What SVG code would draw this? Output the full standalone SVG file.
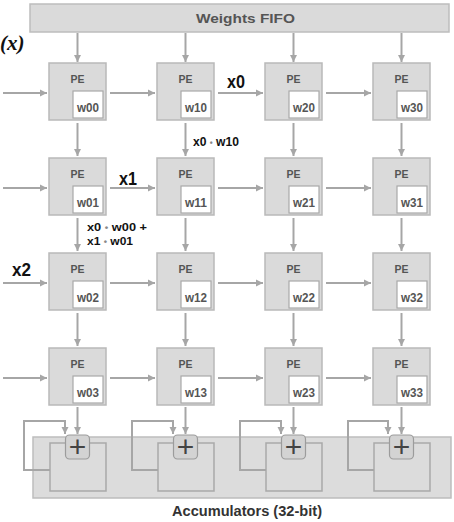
<svg xmlns="http://www.w3.org/2000/svg" width="454" height="522" viewBox="0 0 454 522">
<style>
.pe{fill:#dadada;stroke:#b9b9b9;stroke-width:1.5}
.wb{fill:#ffffff;stroke:#a9a9a9;stroke-width:1.2}
.pel{font-family:"Liberation Sans",Arial,sans-serif;font-weight:bold;font-size:11px;fill:#555;text-anchor:middle}
.wl{font-family:"Liberation Sans",Arial,sans-serif;font-weight:bold;font-size:12.5px;fill:#555;text-anchor:middle}
.c{fill:none;stroke:#a6a6a6;stroke-width:2;marker-end:url(#ah)}
.lbl{font-family:"Liberation Sans",Arial,sans-serif;font-weight:bold;fill:#111}
.dot{fill:#888;font-size:9px}
.acc{fill:#dcdcdc;stroke:#bdbdbd;stroke-width:1.5}
.accin{fill:none;stroke:#a9a9a9;stroke-width:1.5}
.plus{fill:#d3d3d3;stroke:#9c9c9c;stroke-width:1.2}
.pt{font-family:"Liberation Sans",Arial,sans-serif;font-size:30px;fill:#444;text-anchor:middle}
</style>
<defs>
<marker id="ah" markerWidth="8" markerHeight="8" refX="7" refY="4" orient="auto" markerUnits="userSpaceOnUse">
<path d="M0,0.5 L7,4 L0,7.5 z" fill="#a6a6a6"/>
</marker>
</defs>
<rect width="454" height="522" fill="#ffffff"/>

<text x="0" y="50" font-family="'Liberation Serif','Times New Roman',serif" font-style="italic" font-weight="bold" font-size="21" fill="#111">(x)</text>

<g id="weights-fifo">
<rect x="30" y="4" width="419" height="28" fill="#dadada" stroke="#bdbdbd" stroke-width="1.5"/>
<text x="245.5" y="23" font-family="'Liberation Sans',Arial,sans-serif" font-weight="bold" font-size="13.5" fill="#555" text-anchor="middle" textLength="99" lengthAdjust="spacingAndGlyphs">Weights FIFO</text>
</g>

<g id="accumulators">
<rect class="acc" x="33" y="437" width="418" height="61"/>
<rect class="accin" x="50" y="443" width="56" height="48"/>
<rect class="accin" x="158" y="443" width="56" height="48"/>
<rect class="accin" x="266" y="443" width="56" height="48"/>
<rect class="accin" x="374" y="443" width="56" height="48"/>
<text x="247" y="516" font-family="'Liberation Sans',Arial,sans-serif" font-weight="bold" font-size="14.5" fill="#333" text-anchor="middle" textLength="150" lengthAdjust="spacingAndGlyphs">Accumulators (32-bit)</text>
</g>

<g id="pe-00"><rect class="pe" x="49" y="63" width="57" height="57"/><rect class="wb" x="73" y="91" width="30" height="27"/><text class="pel" x="77.5" y="83" textLength="14" lengthAdjust="spacingAndGlyphs">PE</text><text class="wl" x="88" y="112" textLength="22" lengthAdjust="spacingAndGlyphs">w00</text></g>
<g id="pe-10"><rect class="pe" x="157" y="63" width="57" height="57"/><rect class="wb" x="181" y="91" width="30" height="27"/><text class="pel" x="185.5" y="83" textLength="14" lengthAdjust="spacingAndGlyphs">PE</text><text class="wl" x="196" y="112" textLength="22" lengthAdjust="spacingAndGlyphs">w10</text></g>
<g id="pe-20"><rect class="pe" x="265" y="63" width="57" height="57"/><rect class="wb" x="289" y="91" width="30" height="27"/><text class="pel" x="293.5" y="83" textLength="14" lengthAdjust="spacingAndGlyphs">PE</text><text class="wl" x="304" y="112" textLength="22" lengthAdjust="spacingAndGlyphs">w20</text></g>
<g id="pe-30"><rect class="pe" x="373" y="63" width="57" height="57"/><rect class="wb" x="397" y="91" width="30" height="27"/><text class="pel" x="401.5" y="83" textLength="14" lengthAdjust="spacingAndGlyphs">PE</text><text class="wl" x="412" y="112" textLength="22" lengthAdjust="spacingAndGlyphs">w30</text></g>

<g id="pe-01"><rect class="pe" x="49" y="158" width="57" height="57"/><rect class="wb" x="73" y="186" width="30" height="27"/><text class="pel" x="77.5" y="178" textLength="14" lengthAdjust="spacingAndGlyphs">PE</text><text class="wl" x="88" y="207" textLength="22" lengthAdjust="spacingAndGlyphs">w01</text></g>
<g id="pe-11"><rect class="pe" x="157" y="158" width="57" height="57"/><rect class="wb" x="181" y="186" width="30" height="27"/><text class="pel" x="185.5" y="178" textLength="14" lengthAdjust="spacingAndGlyphs">PE</text><text class="wl" x="196" y="207" textLength="22" lengthAdjust="spacingAndGlyphs">w11</text></g>
<g id="pe-21"><rect class="pe" x="265" y="158" width="57" height="57"/><rect class="wb" x="289" y="186" width="30" height="27"/><text class="pel" x="293.5" y="178" textLength="14" lengthAdjust="spacingAndGlyphs">PE</text><text class="wl" x="304" y="207" textLength="22" lengthAdjust="spacingAndGlyphs">w21</text></g>
<g id="pe-31"><rect class="pe" x="373" y="158" width="57" height="57"/><rect class="wb" x="397" y="186" width="30" height="27"/><text class="pel" x="401.5" y="178" textLength="14" lengthAdjust="spacingAndGlyphs">PE</text><text class="wl" x="412" y="207" textLength="22" lengthAdjust="spacingAndGlyphs">w31</text></g>

<g id="pe-02"><rect class="pe" x="49" y="253" width="57" height="57"/><rect class="wb" x="73" y="281" width="30" height="27"/><text class="pel" x="77.5" y="273" textLength="14" lengthAdjust="spacingAndGlyphs">PE</text><text class="wl" x="88" y="302" textLength="22" lengthAdjust="spacingAndGlyphs">w02</text></g>
<g id="pe-12"><rect class="pe" x="157" y="253" width="57" height="57"/><rect class="wb" x="181" y="281" width="30" height="27"/><text class="pel" x="185.5" y="273" textLength="14" lengthAdjust="spacingAndGlyphs">PE</text><text class="wl" x="196" y="302" textLength="22" lengthAdjust="spacingAndGlyphs">w12</text></g>
<g id="pe-22"><rect class="pe" x="265" y="253" width="57" height="57"/><rect class="wb" x="289" y="281" width="30" height="27"/><text class="pel" x="293.5" y="273" textLength="14" lengthAdjust="spacingAndGlyphs">PE</text><text class="wl" x="304" y="302" textLength="22" lengthAdjust="spacingAndGlyphs">w22</text></g>
<g id="pe-32"><rect class="pe" x="373" y="253" width="57" height="57"/><rect class="wb" x="397" y="281" width="30" height="27"/><text class="pel" x="401.5" y="273" textLength="14" lengthAdjust="spacingAndGlyphs">PE</text><text class="wl" x="412" y="302" textLength="22" lengthAdjust="spacingAndGlyphs">w32</text></g>

<g id="pe-03"><rect class="pe" x="49" y="348" width="57" height="57"/><rect class="wb" x="73" y="376" width="30" height="27"/><text class="pel" x="77.5" y="368" textLength="14" lengthAdjust="spacingAndGlyphs">PE</text><text class="wl" x="88" y="397" textLength="22" lengthAdjust="spacingAndGlyphs">w03</text></g>
<g id="pe-13"><rect class="pe" x="157" y="348" width="57" height="57"/><rect class="wb" x="181" y="376" width="30" height="27"/><text class="pel" x="185.5" y="368" textLength="14" lengthAdjust="spacingAndGlyphs">PE</text><text class="wl" x="196" y="397" textLength="22" lengthAdjust="spacingAndGlyphs">w13</text></g>
<g id="pe-23"><rect class="pe" x="265" y="348" width="57" height="57"/><rect class="wb" x="289" y="376" width="30" height="27"/><text class="pel" x="293.5" y="368" textLength="14" lengthAdjust="spacingAndGlyphs">PE</text><text class="wl" x="304" y="397" textLength="22" lengthAdjust="spacingAndGlyphs">w23</text></g>
<g id="pe-33"><rect class="pe" x="373" y="348" width="57" height="57"/><rect class="wb" x="397" y="376" width="30" height="27"/><text class="pel" x="401.5" y="368" textLength="14" lengthAdjust="spacingAndGlyphs">PE</text><text class="wl" x="412" y="397" textLength="22" lengthAdjust="spacingAndGlyphs">w33</text></g>

<g id="connectors">
<line class="c" x1="77.5" y1="33" x2="77.5" y2="62"/>
<line class="c" x1="185.5" y1="33" x2="185.5" y2="62"/>
<line class="c" x1="293.5" y1="33" x2="293.5" y2="62"/>
<line class="c" x1="401.5" y1="33" x2="401.5" y2="62"/>
<line class="c" x1="77.5" y1="123" x2="77.5" y2="156"/>
<line class="c" x1="185.5" y1="123" x2="185.5" y2="156"/>
<line class="c" x1="293.5" y1="123" x2="293.5" y2="156"/>
<line class="c" x1="401.5" y1="123" x2="401.5" y2="156"/>
<line class="c" x1="77.5" y1="218" x2="77.5" y2="251"/>
<line class="c" x1="185.5" y1="218" x2="185.5" y2="251"/>
<line class="c" x1="293.5" y1="218" x2="293.5" y2="251"/>
<line class="c" x1="401.5" y1="218" x2="401.5" y2="251"/>
<line class="c" x1="77.5" y1="313" x2="77.5" y2="346"/>
<line class="c" x1="185.5" y1="313" x2="185.5" y2="346"/>
<line class="c" x1="293.5" y1="313" x2="293.5" y2="346"/>
<line class="c" x1="401.5" y1="313" x2="401.5" y2="346"/>
<line class="c" x1="77.5" y1="407" x2="77.5" y2="434"/>
<line class="c" x1="185.5" y1="407" x2="185.5" y2="434"/>
<line class="c" x1="293.5" y1="407" x2="293.5" y2="434"/>
<line class="c" x1="401.5" y1="407" x2="401.5" y2="434"/>
<line class="c" x1="3" y1="93" x2="47" y2="93"/>
<line class="c" x1="110" y1="93" x2="155" y2="93"/>
<line class="c" x1="218" y1="93" x2="263" y2="93"/>
<line class="c" x1="326" y1="93" x2="371" y2="93"/>
<line class="c" x1="3" y1="188" x2="47" y2="188"/>
<line class="c" x1="110" y1="188" x2="155" y2="188"/>
<line class="c" x1="218" y1="188" x2="263" y2="188"/>
<line class="c" x1="326" y1="188" x2="371" y2="188"/>
<line class="c" x1="3" y1="283" x2="47" y2="283"/>
<line class="c" x1="110" y1="283" x2="155" y2="283"/>
<line class="c" x1="218" y1="283" x2="263" y2="283"/>
<line class="c" x1="326" y1="283" x2="371" y2="283"/>
<line class="c" x1="3" y1="378" x2="47" y2="378"/>
<line class="c" x1="110" y1="378" x2="155" y2="378"/>
<line class="c" x1="218" y1="378" x2="263" y2="378"/>
<line class="c" x1="326" y1="378" x2="371" y2="378"/>
<polyline class="c" points="50,470 24,470 24,421 65,421 65,434"/>
<polyline class="c" points="158,470 132,470 132,421 173,421 173,434"/>
<polyline class="c" points="266,470 240,470 240,421 281,421 281,434"/>
<polyline class="c" points="374,470 348,470 348,421 388,421 388,434"/>
</g>

<g id="adder-0"><rect class="plus" x="65.5" y="435" width="24" height="24" rx="4"/><text class="pt" x="77.5" y="457">+</text></g>
<g id="adder-1"><rect class="plus" x="173.5" y="435" width="24" height="24" rx="4"/><text class="pt" x="185.5" y="457">+</text></g>
<g id="adder-2"><rect class="plus" x="281.5" y="435" width="24" height="24" rx="4"/><text class="pt" x="293.5" y="457">+</text></g>
<g id="adder-3"><rect class="plus" x="389.5" y="435" width="24" height="24" rx="4"/><text class="pt" x="401.5" y="457">+</text></g>

<g id="labels">
<text class="lbl" x="227" y="88" font-size="19" textLength="18" lengthAdjust="spacingAndGlyphs">x0</text>
<text class="lbl" x="119" y="185" font-size="19" textLength="18" lengthAdjust="spacingAndGlyphs">x1</text>
<text class="lbl" x="12" y="276" font-size="19" textLength="19" lengthAdjust="spacingAndGlyphs">x2</text>
<text class="lbl" x="193" y="146" font-size="13" textLength="46" lengthAdjust="spacingAndGlyphs">x0 <tspan class="dot">•</tspan> w10</text>
<text class="lbl" x="87" y="231" font-size="11.5" textLength="60" lengthAdjust="spacingAndGlyphs">x0 <tspan class="dot">•</tspan> w00 +</text>
<text class="lbl" x="87" y="245" font-size="11.5" textLength="46" lengthAdjust="spacingAndGlyphs">x1 <tspan class="dot">•</tspan> w01</text>
</g>
</svg>
